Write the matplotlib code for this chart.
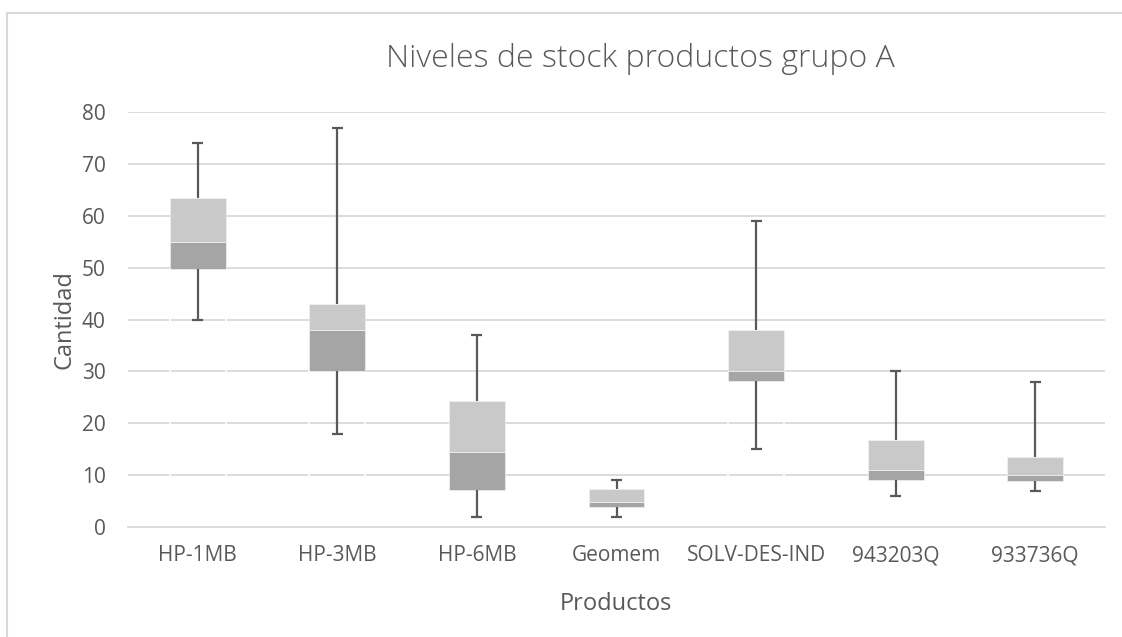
import matplotlib
matplotlib.use("Agg")
import matplotlib.pyplot as plt
import numpy as np
from matplotlib.lines import Line2D

plt.rcParams["font.family"] = ["Open Sans", "DejaVu Sans"]

productos = ["HP-1MB", "HP-3MB", "HP-6MB", "Geomem", "SOLV-DES-IND", "943203Q", "933736Q"]
minimo = [40, 18, 2, 2, 15, 6, 7]
cuartil1 = [49.8, 30, 7.2, 3.9, 28.1, 9.1, 8.8]
mediana = [55, 38, 14.5, 4.9, 30, 11, 10]
cuartil3 = [63.5, 43, 24.2, 7.3, 38, 16.7, 13.4]
maximo = [74, 77, 37, 9, 59, 30, 28]

TXT = "#595959"
GRID = "#d9d9d9"
OSCURO = "#a5a5a5"
CLARO = "#c9c9c9"

mn = np.array(minimo, float)
q1 = np.array(cuartil1, float)
med = np.array(mediana, float)
q3 = np.array(cuartil3, float)
mx = np.array(maximo, float)
x = np.arange(len(productos))
ancho = 0.4
tope = 0.039  # media anchura de los remates de los bigotes

W, H = 1122, 637
fig = plt.figure(figsize=(W / 100, H / 100), dpi=100)
ax = fig.add_axes([128 / W, 1 - 527 / H, 977 / W, 415 / H])

# base invisible (borde blanco como en Excel) + dos tramos de la caja
ax.bar(x, q1, width=ancho, facecolor="none", edgecolor="white", linewidth=1.2, zorder=2)
ax.bar(x, med - q1, bottom=q1, width=ancho, color=OSCURO, edgecolor="#f2f2f2", linewidth=0.5, zorder=3)
ax.bar(x, q3 - med, bottom=med, width=ancho, color=CLARO, edgecolor="#f2f2f2", linewidth=0.5, zorder=3)

# bigotes con remate sólo en los extremos
ax.vlines(x, mn, q1, color=TXT, linewidth=1.6, zorder=4)
ax.vlines(x, q3, mx, color=TXT, linewidth=1.6, zorder=4)
ax.hlines(mn, x - tope, x + tope, color=TXT, linewidth=1.6, zorder=4)
ax.hlines(mx, x - tope, x + tope, color=TXT, linewidth=1.6, zorder=4)

ax.set_xlim(-0.5, len(productos) - 0.5)
ax.set_ylim(0, 80)
ax.set_yticks(np.arange(0, 81, 10))
ax.set_xticks(x)
ax.set_xticklabels(productos)
ax.yaxis.grid(True, color=GRID, linewidth=1.3, zorder=0)
ax.set_axisbelow(True)
for s in ["top", "right", "left"]:
    ax.spines[s].set_visible(False)
ax.spines["bottom"].set_color(GRID)
ax.spines["bottom"].set_linewidth(1.3)
ax.tick_params(length=0, labelsize=15, colors=TXT)
ax.tick_params(axis="x", pad=13)
ax.tick_params(axis="y", pad=16)

fig.text(70 / W, 1 - 320 / H, "Cantidad", rotation=90, rotation_mode="anchor",
         ha="center", va="baseline", fontsize=17, color=TXT)
fig.text(616 / W, 1 - 610 / H, "Productos", ha="center", va="baseline",
         fontsize=17, color=TXT)
fig.text(640 / W, 1 - 67 / H, "Niveles de stock productos grupo A", ha="center",
         va="baseline", fontsize=23, color=TXT, fontweight="light")

# marco del área del gráfico
fig.add_artist(Line2D([7 / W, 1.01], [1 - 12.5 / H] * 2, color=GRID, lw=1.5))
fig.add_artist(Line2D([7 / W] * 2, [-0.01, 1 - 12.5 / H], color=GRID, lw=1.5))

fig.savefig("out.png", dpi=100)
